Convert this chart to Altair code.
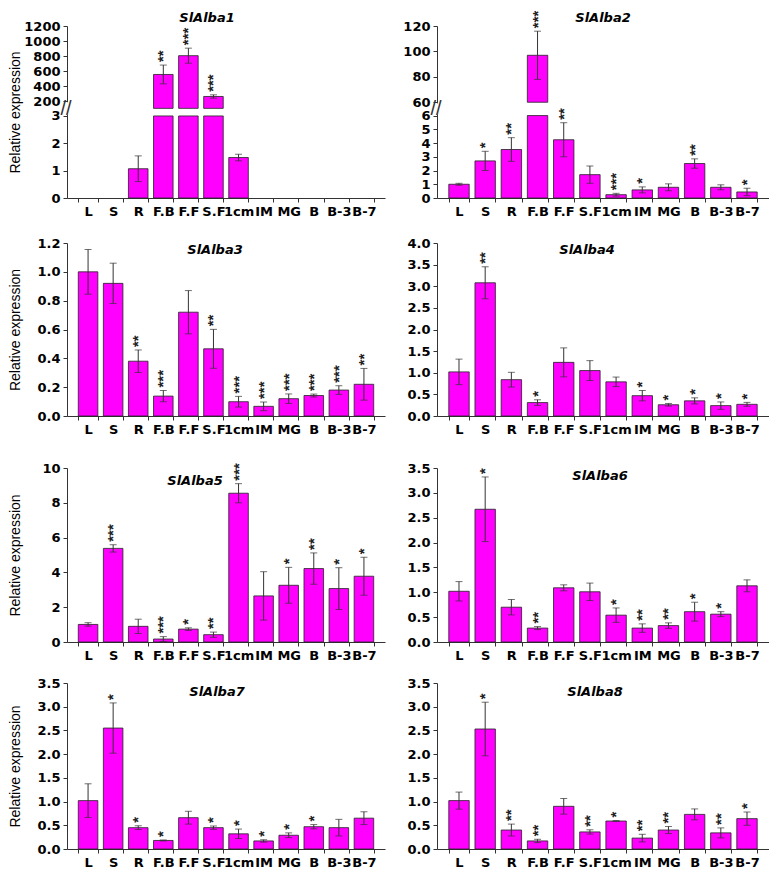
import altair as alt
import pandas as pd

categories = ["L", "S", "R", "F.B", "F.F", "S.F", "1cm", "IM", "MG", "B", "B-3", "B-7"]
NA = None

alba1_mean = [NA, NA, 1.07, 555, 805, 262, 1.48, NA, NA, NA, NA, NA]
alba1_sd = [NA, NA, 0.47, 125, 100, 22, 0.12, NA, NA, NA, NA, NA]
alba1_sig = ["", "", "", "**", "***", "***", "", "", "", "", "", ""]

alba2_mean = [1.0, 2.7, 3.53, 97, 4.24, 1.7, 0.24, 0.59, 0.78, 2.51, 0.78, 0.44]
alba2_sd = [0.07, 0.7, 0.86, 19, 1.24, 0.63, 0.1, 0.22, 0.25, 0.34, 0.18, 0.27]
alba2_sig = ["", "*", "**", "***", "**", "", "***", "*", "", "**", "", "*"]

alba3_mean = [1.0, 0.92, 0.38, 0.138, 0.72, 0.466, 0.099, 0.067, 0.12, 0.142, 0.18, 0.22]
alba3_sd = [0.155, 0.14, 0.078, 0.039, 0.15, 0.135, 0.037, 0.03, 0.033, 0.01, 0.03, 0.11]
alba3_sig = ["", "", "**", "***", "", "**", "***", "***", "***", "***", "***", "**"]

alba4_mean = [1.02, 3.08, 0.84, 0.31, 1.24, 1.05, 0.79, 0.47, 0.26, 0.35, 0.24, 0.27]
alba4_sd = [0.295, 0.37, 0.17, 0.065, 0.335, 0.23, 0.11, 0.12, 0.03, 0.07, 0.085, 0.045]
alba4_sig = ["", "**", "", "*", "", "", "", "*", "*", "*", "*", "*"]

alba5_mean = [1.01, 5.38, 0.9, 0.17, 0.74, 0.42, 8.55, 2.65, 3.26, 4.22, 3.07, 3.78]
alba5_sd = [0.1, 0.21, 0.41, 0.14, 0.075, 0.15, 0.55, 1.39, 1.03, 0.9, 1.2, 1.09]
alba5_sig = ["", "***", "", "***", "*", "**", "***", "", "*", "**", "*", "*"]

alba6_mean = [1.02, 2.67, 0.70, 0.28, 1.09, 1.01, 0.54, 0.28, 0.33, 0.61, 0.56, 1.13]
alba6_sd = [0.195, 0.65, 0.155, 0.03, 0.06, 0.175, 0.145, 0.085, 0.055, 0.19, 0.05, 0.12]
alba6_sig = ["", "*", "", "**", "", "", "*", "**", "**", "*", "*", ""]

alba7_mean = [1.02, 2.55, 0.45, 0.18, 0.66, 0.45, 0.32, 0.17, 0.29, 0.47, 0.45, 0.65]
alba7_sd = [0.355, 0.53, 0.04, 0.01, 0.135, 0.035, 0.1, 0.025, 0.05, 0.045, 0.175, 0.135]
alba7_sig = ["", "*", "*", "*", "", "*", "*", "*", "*", "*", "", ""]

alba8_mean = [1.02, 2.53, 0.4, 0.17, 0.9, 0.36, 0.59, 0.23, 0.4, 0.73, 0.34, 0.64]
alba8_sd = [0.18, 0.565, 0.125, 0.035, 0.165, 0.045, 0.01, 0.08, 0.075, 0.115, 0.105, 0.14]
alba8_sig = ["", "*", "**", "**", "", "**", "*", "**", "**", "", "**", "*"]

LABEL_FONT = "DejaVu Sans"
BAR_COLOR = "#FF00FF"
AX_COLOR = "#333333"


def panel(name, mean, sd, sig, width, height, top, ticks, fmt=None, brk=None,
          left=False, title_xy=(150, 5)):
    def disp(v):
        if brk is None or v <= brk["low"]:
            return v
        return brk["start"] + (v - brk["high"]) * brk["k"]

    rows = []
    for c, m, s, g in zip(categories, mean, sd, sig):
        if m is None:
            continue
        low = m if brk is None else min(m, brk["low"])
        has_up = brk is not None and m > brk["low"]
        rows.append({
            "cat": c, "b0": 0.0, "b1": disp(low),
            "u0": brk["base"] if has_up else None,
            "u1": disp(m) if has_up else None,
            "lo": disp(m - s), "hi": disp(m + s), "sig": g,
        })
    df = pd.DataFrame(rows)

    tick_disp = [disp(t) for t in ticks]
    dom_top = max(top, max(tick_disp) + 1e-6)
    if brk is None:
        label_expr = "format(datum.value, '%s')" % fmt
    else:
        label_expr = ("datum.value <= %f ? format(datum.value, 'd') : "
                      "format((datum.value - %f) / %f + %f, '.0f')"
                      % (brk["low"] + 0.01, brk["start"], brk["k"], brk["high"]))

    yaxis = alt.Axis(
        values=tick_disp, labelExpr=label_expr, grid=False, labelOverlap=False,
        labelFont=LABEL_FONT, labelFontWeight="bold", labelFontSize=13,
        labelColor="black", tickSize=4, tickColor=AX_COLOR, labelPadding=3,
        domainColor=AX_COLOR, minExtent=40, maxExtent=40,
        title="Relative expression" if left else None,
        titleFont="Liberation Sans", titleFontSize=14, titleFontWeight="normal",
        titleColor="black", titlePadding=5,
    )
    yscale = alt.Scale(domain=[0, dom_top], nice=False, zero=True)
    xaxis = alt.Axis(
        title=None, labelAngle=0, labelFont=LABEL_FONT, labelFontWeight="bold",
        labelFontSize=13, labelColor="black", tickBand="extent", tickSize=4,
        tickColor=AX_COLOR, domainColor=AX_COLOR, labelPadding=3,
        labelOverlap=False, labelLimit=200, grid=False,
    )
    xscale = alt.Scale(domain=categories, paddingInner=0.22, paddingOuter=0.45)

    def X():
        return alt.X("cat:N", sort=categories, scale=xscale, axis=xaxis)

    def Y(f):
        return alt.Y(f + ":Q", scale=yscale, axis=yaxis)

    base = alt.Chart(df)
    layers = [
        base.mark_bar(color=BAR_COLOR, stroke="#222222", strokeWidth=0.8).encode(
            x=X(), y=Y("b0"), y2="b1"),
    ]
    if brk is not None:
        layers.append(
            base.transform_filter("isValid(datum.u1)").mark_bar(
                color=BAR_COLOR, stroke="#222222", strokeWidth=0.8).encode(
                x=X(), y=Y("u0"), y2="u1"))
    layers += [
        base.mark_rule(color=AX_COLOR, strokeWidth=1).encode(x=X(), y=Y("lo"), y2="hi"),
        base.mark_tick(color=AX_COLOR, size=7, thickness=1).encode(x=X(), y=Y("hi")),
        base.mark_tick(color=AX_COLOR, size=7, thickness=1).encode(x=X(), y=Y("lo")),
        base.transform_filter("datum.sig != ''").mark_text(
            angle=270, align="left", baseline="middle", dx=3,
            font="Liberation Sans", fontSize=15, fontWeight="bold", color="#222222").encode(
            x=X(), y=Y("hi"), text="sig:N"),
    ]
    if brk is not None:
        bdf = pd.DataFrame({"a": [brk["low"] + 0.04 * dom_top / 6.3],
                            "b": [brk["start"] - 0.04 * dom_top / 6.3],
                            "m": [(brk["low"] + brk["start"]) / 2]})
        layers.append(alt.Chart(bdf).mark_rule(color="white", strokeWidth=3).encode(
            x=alt.value(0), y=Y("a"), y2="b"))
        layers.append(alt.Chart(bdf).mark_text(
            text="//", fontSize=20, font="Liberation Sans", color="#333333",
            baseline="middle", align="center").encode(x=alt.value(-1), y=Y("m")))
    tdf = pd.DataFrame({"t": [name]})
    layers.append(alt.Chart(tdf).mark_text(
        font=LABEL_FONT, fontSize=13, fontWeight="bold", fontStyle="italic",
        baseline="middle", align="center", color="black").encode(
        x=alt.value(title_xy[0]), y=alt.value(title_xy[1]), text="t:N"))
    return alt.layer(*layers).properties(width=width, height=height)


WL, WR = 318, 332
half = [0, 0.5, 1.0, 1.5, 2.0, 2.5, 3.0, 3.5]

p1 = panel("SlAlba1", alba1_mean, alba1_sd, alba1_sig, WL, 172, 6.289,
           [0, 1, 2, 3, 200, 400, 600, 800, 1000, 1200],
           brk={"low": 3, "high": 200, "start": 3.542, "k": 0.002747, "base": 3.278},
           left=True, title_xy=(140, -8))
p2 = panel("SlAlba2", alba2_mean, alba2_sd, alba2_sig, WR, 172, 12.52,
           [0, 1, 2, 3, 4, 5, 6, 60, 80, 100, 120],
           brk={"low": 6, "high": 60, "start": 6.97, "k": 0.09237, "base": 6.97},
           title_xy=(166, -8))
p3 = panel("SlAlba3", alba3_mean, alba3_sd, alba3_sig, WL, 173, 1.2,
           [0, 0.2, 0.4, 0.6, 0.8, 1.0, 1.2], fmt=".1f", left=True, title_xy=(148, 7))
p4 = panel("SlAlba4", alba4_mean, alba4_sd, alba4_sig, WR, 173, 4.0,
           [0, 0.5, 1.0, 1.5, 2.0, 2.5, 3.0, 3.5, 4.0], fmt=".1f", title_xy=(150, 7))
p5 = panel("SlAlba5", alba5_mean, alba5_sd, alba5_sig, WL, 174, 10,
           [0, 2, 4, 6, 8, 10], fmt="d", left=True, title_xy=(128, 13))
p6 = panel("SlAlba6", alba6_mean, alba6_sd, alba6_sig, WR, 174, 3.5,
           half, fmt=".1f", title_xy=(163, 8))
p7 = panel("SlAlba7", alba7_mean, alba7_sd, alba7_sig, WL, 166, 3.5,
           half, fmt=".1f", left=True, title_xy=(150, 9))
p8 = panel("SlAlba8", alba8_mean, alba8_sd, alba8_sig, WR, 166, 3.5,
           half, fmt=".1f", title_xy=(158, 9))

top_rows = alt.vconcat(
    alt.hconcat(p1, p2, spacing=12),
    alt.hconcat(p3, p4, spacing=12),
    spacing=19,
)
bottom_rows = alt.vconcat(
    alt.hconcat(p5, p6, spacing=12),
    alt.hconcat(p7, p8, spacing=12),
    spacing=15,
)
chart = alt.vconcat(top_rows, bottom_rows, spacing=26).properties(
    padding={"top": 2, "left": 0, "right": 0, "bottom": 0}).configure_view(stroke=None)

chart.save("out.html", embed_options={"renderer": "svg", "actions": False})
